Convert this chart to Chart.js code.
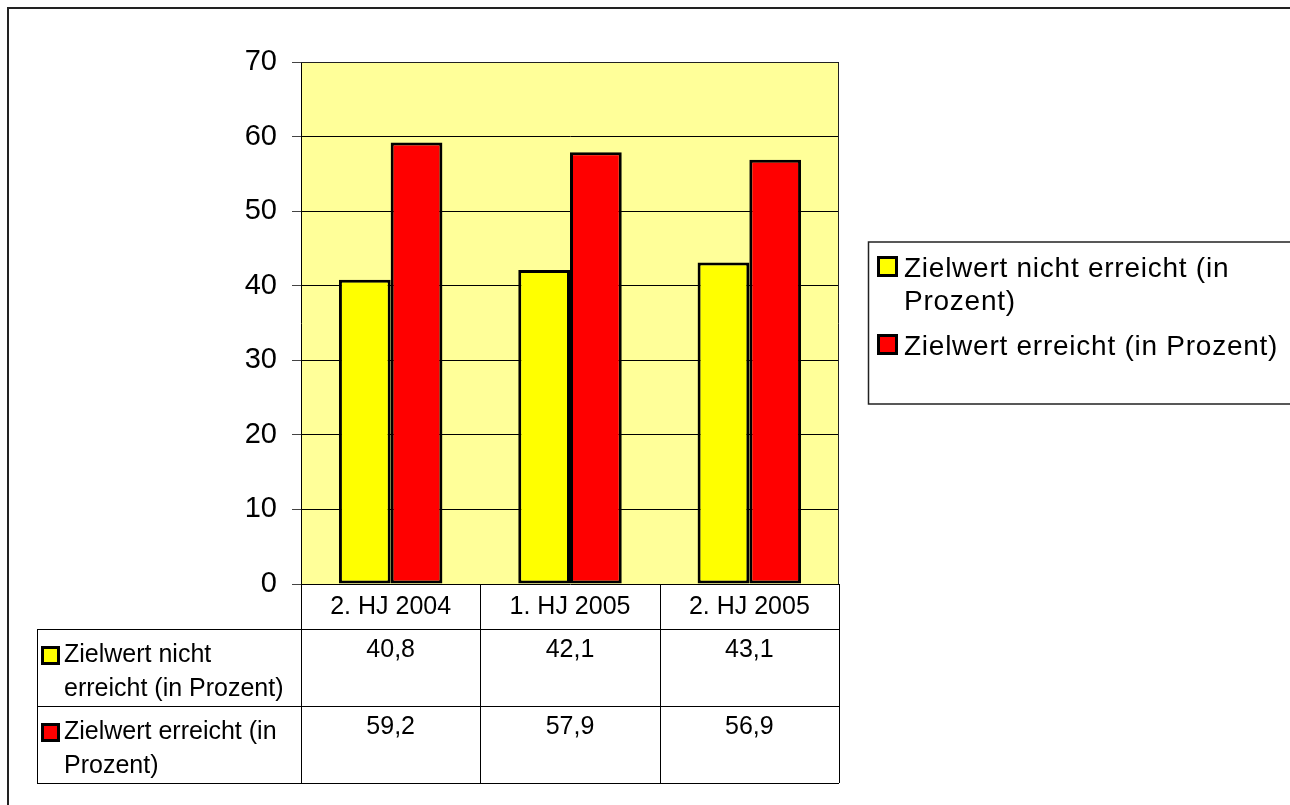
<!DOCTYPE html>
<html lang="de">
<head>
<meta charset="utf-8">
<title>Zielwert erreicht / nicht erreicht</title>
<script src="https://cdn.jsdelivr.net/npm/chart.js@4/dist/chart.umd.min.js"></script>
<style>
  html, body { margin: 0; padding: 0; background: #fff; }
  canvas { display: block; }
</style>
</head>
<body>
<canvas id="chart" width="1290" height="805"></canvas>
<script>
// Halbjahre und Anteile (in Prozent)
const categories = ['2. HJ 2004', '1. HJ 2005', '2. HJ 2005'];
const seriesNames = ['Zielwert nicht erreicht (in Prozent)', 'Zielwert erreicht (in Prozent)'];
const nichtErreicht = [40.8, 42.1, 43.1];
const erreicht = [59.2, 57.9, 56.9];
const seriesColors = ['#FFFF00', '#FF0000'];
const yMin = 0, yMax = 70, yStep = 10;

const FONT = '"Liberation Sans", Arial, Helvetica, sans-serif';

function fmt(v) { return v.toFixed(1).replace('.', ','); }

function wrap(ctx, text, maxWidth) {
  const words = text.split(' ');
  const lines = [];
  let cur = '';
  for (const w of words) {
    const t = cur ? cur + ' ' + w : w;
    if (cur && ctx.measureText(t).width > maxWidth) { lines.push(cur); cur = w; }
    else cur = t;
  }
  if (cur) lines.push(cur);
  return lines;
}

function swatch(ctx, x, y, size, color) {
  ctx.fillStyle = '#000';
  ctx.fillRect(x, y, size, size);
  ctx.fillStyle = color;
  ctx.fillRect(x + 3, y + 3, size - 6, size - 6);
}

// Hintergrund, Rahmen und Zeichenfläche
const framePlugin = {
  id: 'frame',
  beforeDraw(chart) {
    const { ctx, chartArea: a, width, height } = chart;
    ctx.save();
    ctx.fillStyle = '#fff';
    ctx.fillRect(0, 0, width, height);
    ctx.strokeStyle = '#222';
    ctx.lineWidth = 2;
    ctx.beginPath();
    ctx.moveTo(width + 5, 8);
    ctx.lineTo(8, 8);
    ctx.lineTo(8, height + 5);
    ctx.stroke();
    ctx.fillStyle = '#FFFF99';
    ctx.fillRect(a.left, a.top, a.right - a.left, a.bottom - a.top);
    ctx.restore();
  },
  afterDatasetsDraw(chart) {
    const { ctx, chartArea: a } = chart;
    ctx.save();
    ctx.strokeStyle = '#222';
    ctx.lineWidth = 1;
    ctx.beginPath();
    ctx.moveTo(a.left, a.top + 0.5);
    ctx.lineTo(a.right - 0.5, a.top + 0.5);
    ctx.lineTo(a.right - 0.5, a.bottom);
    ctx.stroke();
    ctx.restore();
  }
};

// Datentabelle unter der Achse
const tablePlugin = {
  id: 'datatable',
  afterDraw(chart) {
    const { ctx, chartArea: a } = chart;
    const xs = chart.scales.x;
    const n = categories.length;
    const colW = (a.right - a.left) / n;
    const headerTop = a.bottom, headerBottom = a.bottom + 45;
    const rowH = 77;
    const tableLeft = 37;
    const rows = [nichtErreicht, erreicht];
    const tableBottom = headerBottom + rowH * rows.length;

    ctx.save();
    ctx.strokeStyle = '#000';
    ctx.lineWidth = 1;
    ctx.beginPath();
    for (let i = 0; i <= n; i++) {
      const x = Math.round(a.left + colW * i) + 0.5;
      ctx.moveTo(x, headerTop);
      ctx.lineTo(x, tableBottom);
    }
    ctx.moveTo(tableLeft + 0.5, headerBottom);
    ctx.lineTo(tableLeft + 0.5, tableBottom);
    for (let r = 0; r <= rows.length; r++) {
      const y = headerBottom + rowH * r + 0.5;
      ctx.moveTo(tableLeft, y);
      ctx.lineTo(a.right, y);
    }
    ctx.stroke();

    ctx.fillStyle = '#000';
    ctx.font = '25px ' + FONT;
    ctx.textAlign = 'center';
    ctx.textBaseline = 'middle';
    categories.forEach((c, i) => {
      ctx.fillText(c, xs.getPixelForValue(i), (headerTop + headerBottom) / 2 + 1);
    });

    ctx.textBaseline = 'alphabetic';
    rows.forEach((vals, r) => {
      const top = headerBottom + rowH * r;
      vals.forEach((v, i) => {
        ctx.textAlign = 'center';
        ctx.fillStyle = '#000';
        ctx.fillText(fmt(v), xs.getPixelForValue(i), top + 28);
      });
      swatch(ctx, 41, top + 17, 19, seriesColors[r]);
      ctx.fillStyle = '#000';
      ctx.textAlign = 'left';
      const lines = wrap(ctx, seriesNames[r], 230);
      lines.forEach((ln, k) => ctx.fillText(ln, 64, top + 33 + k * 34));
    });
    ctx.restore();
  }
};

// Legende rechts neben dem Diagramm
const legendPlugin = {
  id: 'sideLegend',
  afterDraw(chart) {
    const { ctx, width } = chart;
    ctx.save();
    ctx.strokeStyle = '#222';
    ctx.lineWidth = 1.5;
    ctx.beginPath();
    ctx.moveTo(width + 5, 242);
    ctx.lineTo(868.5, 242);
    ctx.lineTo(868.5, 404);
    ctx.lineTo(width + 5, 404);
    ctx.stroke();

    ctx.font = '28px ' + FONT;
    ctx.letterSpacing = '0.75px';
    ctx.textAlign = 'left';
    ctx.textBaseline = 'alphabetic';
    let base = 277;
    chart.data.datasets.forEach((ds, i) => {
      swatch(ctx, 877, base - 21, 21, ds.backgroundColor);
      ctx.fillStyle = '#000';
      const lines = wrap(ctx, ds.label, 380);
      lines.forEach((ln, k) => ctx.fillText(ln, 904, base + k * 33));
      base += (lines.length - 1) * 33 + 45;
    });
    ctx.restore();
  }
};

new Chart(document.getElementById('chart'), {
  type: 'bar',
  data: {
    labels: categories,
    datasets: [
      { label: seriesNames[0], data: nichtErreicht, backgroundColor: seriesColors[0] },
      { label: seriesNames[1], data: erreicht, backgroundColor: seriesColors[1] }
    ]
  },
  options: {
    responsive: false,
    animation: false,
    events: [],
    layout: { padding: { left: 0, top: 62, right: 451, bottom: 221 } },
    datasets: {
      bar: {
        borderColor: '#000',
        borderWidth: 3,
        borderSkipped: false,
        categoryPercentage: 0.577,
        barPercentage: 1
      }
    },
    plugins: {
      legend: { display: false },
      tooltip: { enabled: false }
    },
    scales: {
      x: { display: false },
      y: {
        min: yMin,
        max: yMax,
        afterFit(scale) { scale.width = 301; },
        ticks: {
          stepSize: yStep,
          color: '#000',
          padding: 15,
          font: { family: FONT, size: 29 }
        },
        grid: { color: '#000', lineWidth: 1, tickLength: 9, tickColor: '#444' },
        border: { display: true, color: '#000', width: 1 }
      }
    }
  },
  plugins: [framePlugin, tablePlugin, legendPlugin]
});
</script>
</body>
</html>
